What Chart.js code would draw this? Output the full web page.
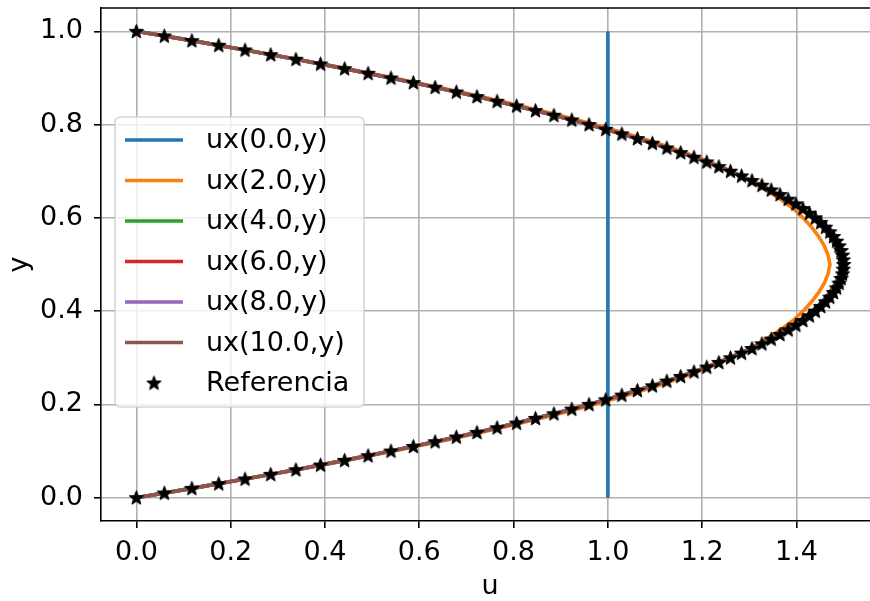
<!DOCTYPE html>
<html>
<head>
<meta charset="utf-8">
<script src="https://cdn.jsdelivr.net/npm/chart.js@4"></script>
<style>
  html, body { margin: 0; padding: 0; background: #fff; overflow: hidden; }
  canvas { display: block; }
</style>
</head>
<body>
<canvas id="flowChart" width="890" height="601"></canvas>
<script>
// ---- data ----
const seriesLabels = ["ux(0.0,y)", "ux(2.0,y)", "ux(4.0,y)", "ux(6.0,y)", "ux(8.0,y)", "ux(10.0,y)"];
const seriesColors = ["#1f77b4", "#ff7f0e", "#2ca02c", "#d62728", "#9467bd", "#8c564b"];
const refLabel = "Referencia";

// inlet profile (flat)
const yInlet = [0, 1];
const uInlet = [1, 1];

// sampled y positions for the simulated profiles
const yLine = [0, 0.02, 0.04, 0.06, 0.08, 0.10, 0.12, 0.14, 0.16, 0.18, 0.20, 0.22, 0.24, 0.26, 0.28, 0.30,
  0.32, 0.34, 0.36, 0.38, 0.40, 0.42, 0.44, 0.46, 0.48, 0.50, 0.52, 0.54, 0.56, 0.58, 0.60, 0.62, 0.64,
  0.66, 0.68, 0.70, 0.72, 0.74, 0.76, 0.78, 0.80, 0.82, 0.84, 0.86, 0.88, 0.90, 0.92, 0.94, 0.96, 0.98, 1.00];

// x = 2.0 (still developing, flatter core)
const uX2 = [0, 0.118, 0.232, 0.341, 0.446, 0.546, 0.641, 0.731, 0.816, 0.897, 0.972, 1.042, 1.106, 1.164,
  1.216, 1.262, 1.302, 1.336, 1.366, 1.393, 1.414, 1.432, 1.447, 1.459, 1.467, 1.471, 1.467, 1.459, 1.447,
  1.432, 1.414, 1.393, 1.366, 1.336, 1.302, 1.262, 1.216, 1.164, 1.106, 1.042, 0.972, 0.897, 0.816, 0.731,
  0.641, 0.546, 0.446, 0.341, 0.232, 0.118, 0];

// x = 4.0 .. 10.0 (developed, curves lie on top of each other)
const uDev = [0, 0.1176, 0.2304, 0.3384, 0.4416, 0.54, 0.6336, 0.7224, 0.8064, 0.8856, 0.96, 1.0296, 1.0944,
  1.1544, 1.2096, 1.259, 1.304, 1.344, 1.379, 1.409, 1.434, 1.455, 1.471, 1.483, 1.491, 1.494, 1.491, 1.483,
  1.471, 1.455, 1.434, 1.409, 1.379, 1.344, 1.304, 1.259, 1.2096, 1.1544, 1.0944, 1.0296, 0.96, 0.8856,
  0.8064, 0.7224, 0.6336, 0.54, 0.4416, 0.3384, 0.2304, 0.1176, 0];

// reference (star markers)
const yRef = [0, 0.01, 0.02, 0.03, 0.04, 0.05, 0.06, 0.07, 0.08, 0.09, 0.10, 0.11, 0.12, 0.13, 0.14, 0.15,
  0.16, 0.17, 0.18, 0.19, 0.20, 0.21, 0.22, 0.23, 0.24, 0.25, 0.26, 0.27, 0.28, 0.29, 0.30, 0.31, 0.32, 0.33,
  0.34, 0.35, 0.36, 0.37, 0.38, 0.39, 0.40, 0.41, 0.42, 0.43, 0.44, 0.45, 0.46, 0.47, 0.48, 0.49, 0.50, 0.51,
  0.52, 0.53, 0.54, 0.55, 0.56, 0.57, 0.58, 0.59, 0.60, 0.61, 0.62, 0.63, 0.64, 0.65, 0.66, 0.67, 0.68, 0.69,
  0.70, 0.71, 0.72, 0.73, 0.74, 0.75, 0.76, 0.77, 0.78, 0.79, 0.80, 0.81, 0.82, 0.83, 0.84, 0.85, 0.86, 0.87,
  0.88, 0.89, 0.90, 0.91, 0.92, 0.93, 0.94, 0.95, 0.96, 0.97, 0.98, 0.99, 1.00];
const uRef = [0, 0.0594, 0.1176, 0.1746, 0.2304, 0.285, 0.3384, 0.3906, 0.4416, 0.4914, 0.54, 0.5874, 0.6336,
  0.6786, 0.7224, 0.765, 0.8064, 0.8466, 0.8856, 0.9234, 0.96, 0.9954, 1.0296, 1.0626, 1.0944, 1.125, 1.1544,
  1.1826, 1.2096, 1.2354, 1.26, 1.2834, 1.3056, 1.3266, 1.3464, 1.365, 1.3824, 1.3986, 1.4136, 1.4274, 1.44,
  1.4514, 1.4616, 1.4706, 1.4784, 1.485, 1.4904, 1.4946, 1.4976, 1.4994, 1.5, 1.4994, 1.4976, 1.4946, 1.4904,
  1.485, 1.4784, 1.4706, 1.4616, 1.4514, 1.44, 1.4274, 1.4136, 1.3986, 1.3824, 1.365, 1.3464, 1.3266, 1.3056,
  1.2834, 1.26, 1.2354, 1.2096, 1.1826, 1.1544, 1.125, 1.0944, 1.0626, 1.0296, 0.9954, 0.96, 0.9234, 0.8856,
  0.8466, 0.8064, 0.765, 0.7224, 0.6786, 0.6336, 0.5874, 0.54, 0.4914, 0.4416, 0.3906, 0.3384, 0.285, 0.2304,
  0.1746, 0.1176, 0.0594, 0];

// axis tick labels
const xTicks = [0.0, 0.2, 0.4, 0.6, 0.8, 1.0, 1.2, 1.4];
const yTicks = [0.0, 0.2, 0.4, 0.6, 0.8, 1.0];

/* ================================
   Star marker (matplotlib "*")
================================ */
function makeStar(outer, inner) {
  const c = document.createElement("canvas");
  const s = Math.ceil(outer * 2 + 2);
  c.width = s; c.height = s;
  const g = c.getContext("2d");
  g.translate(s / 2, s / 2 + 0.5);
  g.beginPath();
  for (let i = 0; i < 10; i++) {
    const r = i % 2 === 0 ? outer : inner;
    const a = -Math.PI / 2 + i * Math.PI / 5;
    g.lineTo(r * Math.cos(a), r * Math.sin(a));
  }
  g.closePath();
  g.fillStyle = "#000";
  g.fill();
  g.strokeStyle = "#000";
  g.lineWidth = 1;
  g.stroke();
  return c;
}
const starImg = makeStar(7.5, 3.2);

const FONT = "'DejaVu Sans', sans-serif";
const FONT_SIZE = 27;

function zipXY(xs, ys) {
  return xs.map((x, i) => ({ x: x, y: ys[i] }));
}

/* ================================
   Datasets
================================ */
const profileData = [
  zipXY(uInlet, yInlet),
  zipXY(uX2, yLine),
  zipXY(uDev, yLine),
  zipXY(uDev, yLine),
  zipXY(uDev, yLine),
  zipXY(uDev, yLine),
];

const datasets = seriesLabels.map((lab, i) => ({
  label: lab,
  data: profileData[i],
  showLine: true,
  borderColor: seriesColors[i],
  backgroundColor: seriesColors[i],
  borderWidth: 3.6,
  pointRadius: 0,
  tension: 0,
  order: seriesLabels.length - i,
}));
datasets.push({
  label: refLabel,
  data: zipXY(uRef, yRef),
  showLine: false,
  pointStyle: starImg,
  pointRadius: 7,
  order: 0,
});

/* ================================
   Top spine, axis titles, legend
================================ */
const decorPlugin = {
  id: "decor",
  afterDraw(chart) {
    const ctx = chart.ctx;
    const a = chart.chartArea;
    ctx.save();

    // top spine
    ctx.strokeStyle = "#000";
    ctx.lineWidth = 1.6;
    ctx.beginPath();
    ctx.moveTo(a.left - 0.8, a.top);
    ctx.lineTo(a.right, a.top);
    ctx.stroke();

    // axis titles
    ctx.fillStyle = "#000";
    ctx.font = FONT_SIZE + "px " + FONT;
    ctx.textAlign = "center";
    ctx.textBaseline = "middle";
    ctx.fillText("u", (a.left + a.right) / 2, 587);
    ctx.save();
    ctx.translate(20, (a.top + a.bottom) / 2);
    ctx.rotate(-Math.PI / 2);
    ctx.fillText("y", 0, 0);
    ctx.restore();

    // legend box
    const bx = 115, by = 117, bw = 249, bh = 290, r = 5;
    ctx.beginPath();
    ctx.roundRect(bx, by, bw, bh, r);
    ctx.fillStyle = "rgba(255,255,255,0.8)";
    ctx.fill();
    ctx.strokeStyle = "rgba(204,204,204,0.8)";
    ctx.lineWidth = 1.6;
    ctx.stroke();

    ctx.textAlign = "left";
    ctx.textBaseline = "middle";
    const rowY0 = 140, rowStep = 40.5;
    seriesLabels.forEach((lab, i) => {
      const yy = rowY0 + i * rowStep;
      ctx.strokeStyle = seriesColors[i];
      ctx.lineWidth = 3.6;
      ctx.beginPath();
      ctx.moveTo(125, yy);
      ctx.lineTo(183, yy);
      ctx.stroke();
      ctx.fillStyle = "#000";
      ctx.fillText(lab, 206, yy + 1);
    });
    const yStar = rowY0 + seriesLabels.length * rowStep;
    ctx.drawImage(starImg, 154 - starImg.width / 2, yStar - starImg.height / 2);
    ctx.fillStyle = "#000";
    ctx.fillText(refLabel, 206, yStar + 1);

    ctx.restore();
  },
};

/* ================================
   Chart
================================ */
const ctx = document.getElementById("flowChart").getContext("2d");
new Chart(ctx, {
  type: "scatter",
  data: { datasets: datasets },
  options: {
    responsive: false,
    animation: false,
    layout: { padding: { left: 0, right: 11, top: 7, bottom: 0 } },
    plugins: {
      legend: { display: false },
      tooltip: { enabled: false },
    },
    scales: {
      x: {
        type: "linear",
        min: -0.075,
        max: 1.575,
        afterFit: (s) => {
          s.height = 80;
          s.paddingLeft = 0;
          s.paddingRight = 0;
        },
        afterBuildTicks: (s) => { s.ticks = xTicks.map((v) => ({ value: v })); },
        ticks: {
          color: "#000",
          font: { family: FONT, size: FONT_SIZE },
          padding: 9,
          maxRotation: 0,
          autoSkip: false,
          callback: (v) => Number(v).toFixed(1),
        },
        grid: {
          color: "#b0b0b0",
          lineWidth: 1.6,
          tickColor: "#000",
          tickLength: 7,
          tickWidth: 1.6,
        },
        border: { display: true, color: "#000", width: 1.6 },
      },
      y: {
        type: "linear",
        min: -0.05,
        max: 1.05,
        afterFit: (s) => {
          s.width = 101;
          s.paddingTop = 0;
          s.paddingBottom = 0;
        },
        afterBuildTicks: (s) => { s.ticks = yTicks.map((v) => ({ value: v })); },
        ticks: {
          color: "#000",
          font: { family: FONT, size: FONT_SIZE },
          padding: 11,
          autoSkip: false,
          callback: (v) => Number(v).toFixed(1),
        },
        grid: {
          color: "#b0b0b0",
          lineWidth: 1.6,
          tickColor: "#000",
          tickLength: 7,
          tickWidth: 1.6,
        },
        border: { display: true, color: "#000", width: 1.6 },
      },
    },
  },
  plugins: [decorPlugin],
});
</script>
</body>
</html>
